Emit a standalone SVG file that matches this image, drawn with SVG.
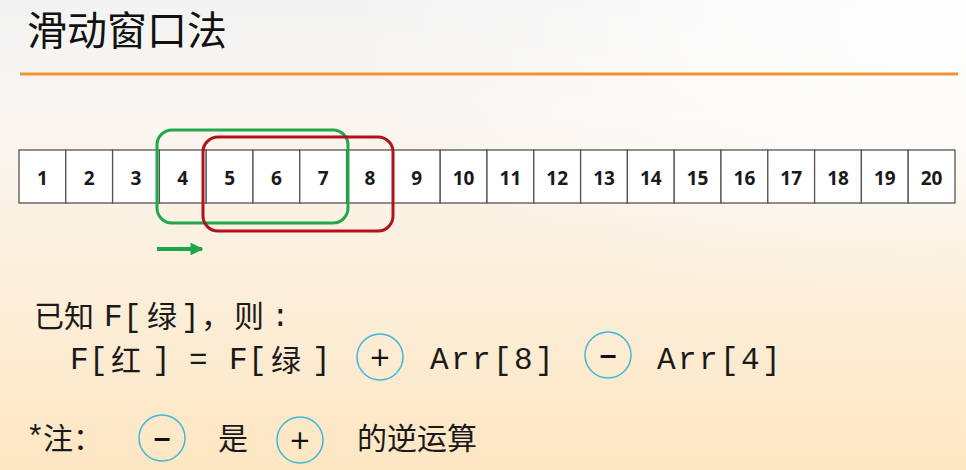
<svg xmlns="http://www.w3.org/2000/svg" width="966" height="470" viewBox="0 0 966 470">
<style>
.cell{fill:#ffffff;stroke:#555555;stroke-width:1.3}
.num{font-family:"Open Sans",Lato,sans-serif;font-weight:700;font-size:19px;fill:#1a1a1a;text-anchor:middle}
.cjk{font-family:"Noto Sans CJK SC",sans-serif;font-size:30px;fill:#1a1a1a}
.mono{font-family:"Liberation Mono",monospace;font-size:31px;fill:#1a1a1a}
.op{fill:none;stroke:#3db8d8;stroke-width:1.5}
.sym{font-family:"DejaVu Sans",sans-serif;font-size:26px;fill:#111111;text-anchor:middle}
.minus{font-family:"Liberation Sans",sans-serif;font-weight:700;font-size:30px;fill:#111111;text-anchor:middle}
</style>
<defs>
<linearGradient id="bg" x1="0" y1="0" x2="0" y2="1">
<stop offset="0" stop-color="#f3f3f3"/>
<stop offset="0.25" stop-color="#f9f6f1"/>
<stop offset="0.6" stop-color="#fcefdb"/>
<stop offset="1" stop-color="#fde6c2"/>
</linearGradient>
<radialGradient id="hl" cx="0.95" cy="0.05" r="0.6">
<stop offset="0" stop-color="#ffffff" stop-opacity="0.9"/>
<stop offset="1" stop-color="#ffffff" stop-opacity="0"/>
</radialGradient>
<marker id="ah" viewBox="0 0 10 10" refX="9" refY="5" markerWidth="3.2" markerHeight="3.2" orient="auto" markerUnits="strokeWidth">
<path d="M0,0 L10,5 L0,10 z" fill="#1ba64c"/>
</marker>
</defs>
<rect x="0" y="0" width="966" height="470" fill="url(#bg)"/>
<rect x="0" y="0" width="966" height="470" fill="url(#hl)"/>

<g id="title">
<text x="27" y="45" style="font-family:'Noto Sans CJK SC',sans-serif;font-size:40px;fill:#111111">滑动窗口法</text>
<line x1="20" y1="74" x2="958" y2="74" stroke="#ef9431" stroke-width="3"/>
</g>

<g id="array">
<rect class="cell" x="19" y="150" width="46.8" height="53"/>
<rect class="cell" x="65.8" y="150" width="46.8" height="53"/>
<rect class="cell" x="112.6" y="150" width="46.8" height="53"/>
<rect class="cell" x="159.4" y="150" width="46.8" height="53"/>
<rect class="cell" x="206.2" y="150" width="46.8" height="53"/>
<rect class="cell" x="253" y="150" width="46.8" height="53"/>
<rect class="cell" x="299.8" y="150" width="46.8" height="53"/>
<rect class="cell" x="346.6" y="150" width="46.8" height="53"/>
<rect class="cell" x="393.4" y="150" width="46.8" height="53"/>
<rect class="cell" x="440.2" y="150" width="46.8" height="53"/>
<rect class="cell" x="487" y="150" width="46.8" height="53"/>
<rect class="cell" x="533.8" y="150" width="46.8" height="53"/>
<rect class="cell" x="580.6" y="150" width="46.8" height="53"/>
<rect class="cell" x="627.4" y="150" width="46.8" height="53"/>
<rect class="cell" x="674.2" y="150" width="46.8" height="53"/>
<rect class="cell" x="721" y="150" width="46.8" height="53"/>
<rect class="cell" x="767.8" y="150" width="46.8" height="53"/>
<rect class="cell" x="814.6" y="150" width="46.8" height="53"/>
<rect class="cell" x="861.4" y="150" width="46.8" height="53"/>
<rect class="cell" x="908.2" y="150" width="46.8" height="53"/>
<text class="num" x="42.4" y="185">1</text>
<text class="num" x="89.2" y="185">2</text>
<text class="num" x="136" y="185">3</text>
<text class="num" x="182.8" y="185">4</text>
<text class="num" x="229.6" y="185">5</text>
<text class="num" x="276.4" y="185">6</text>
<text class="num" x="323.2" y="185">7</text>
<text class="num" x="370" y="185">8</text>
<text class="num" x="416.8" y="185">9</text>
<text class="num" x="463.6" y="185">10</text>
<text class="num" x="510.4" y="185">11</text>
<text class="num" x="557.2" y="185">12</text>
<text class="num" x="604" y="185">13</text>
<text class="num" x="650.8" y="185">14</text>
<text class="num" x="697.6" y="185">15</text>
<text class="num" x="744.4" y="185">16</text>
<text class="num" x="791.2" y="185">17</text>
<text class="num" x="838" y="185">18</text>
<text class="num" x="884.8" y="185">19</text>
<text class="num" x="931.6" y="185">20</text>
</g>

<g id="green-window">
<rect x="157" y="130" width="191" height="93" rx="15" fill="none" stroke="#22a84b" stroke-width="3"/>
</g>
<g id="red-window">
<rect x="203" y="137" width="190" height="94" rx="15" fill="none" stroke="#b3121d" stroke-width="3"/>
</g>

<g id="connectors">
<line x1="157" y1="249" x2="202" y2="249" stroke="#1ba64c" stroke-width="4" marker-end="url(#ah)"/>
</g>

<g id="line1">
<text class="cjk" x="34" y="327">已知</text>
<text class="mono" x="104" y="326">F</text>
<text class="mono" x="123" y="326">[</text>
<text class="cjk" x="147" y="327">绿</text>
<text class="mono" x="181" y="326">]</text>
<text class="cjk" x="201" y="327">，</text>
<text class="cjk" x="234" y="327">则</text>
<text class="mono" x="271" y="326">:</text>
</g>

<g id="line2">
<text class="mono" x="70" y="369">F</text>
<text class="mono" x="89" y="369">[</text>
<text class="cjk" x="111" y="371">红</text>
<text class="mono" x="152" y="369">]</text>
<text class="mono" x="189" y="369">=</text>
<text class="mono" x="229" y="369">F</text>
<text class="mono" x="248" y="369">[</text>
<text class="cjk" x="271" y="371">绿</text>
<text class="mono" x="312" y="369">]</text>
</g>

<g id="plus-op">
<circle class="op" cx="380" cy="357" r="23"/>
<text class="sym" x="380" y="366">+</text>
</g>
<g id="arr8">
<text class="mono" x="430 451 472 493 514 535" y="369">Arr[8]</text>
</g>
<g id="minus-op">
<circle class="op" cx="608" cy="355" r="23"/>
<text class="minus" x="608" y="365">–</text>
</g>
<g id="arr4">
<text class="mono" x="657 678 699 720 741 762" y="369">Arr[4]</text>
</g>

<g id="note">
<text class="mono" x="26" y="447">*</text>
<text class="cjk" x="43" y="449">注：</text>
<circle class="op" cx="162" cy="438" r="23"/>
<text class="minus" x="162" y="448">–</text>
<text class="cjk" x="218" y="449">是</text>
<circle class="op" cx="300" cy="440" r="23"/>
<text class="sym" x="300" y="449">+</text>
<text class="cjk" x="357" y="449">的逆运算</text>
</g>
</svg>
